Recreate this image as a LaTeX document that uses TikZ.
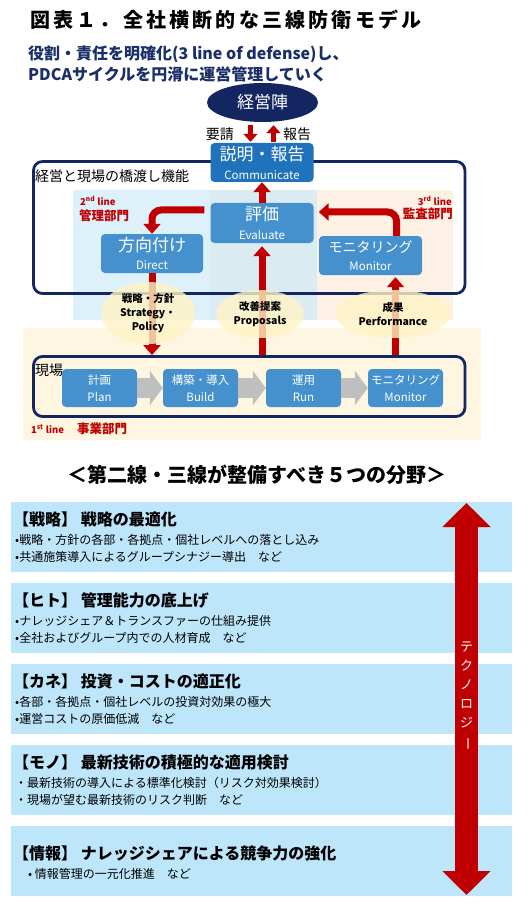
\documentclass[tikz,border=0pt]{standalone}
\usepackage{graphicx}
\usepackage{fontspec}
\setmainfont{Noto Sans CJK JP}
\usetikzlibrary{positioning,arrows.meta,shapes.geometric}

\definecolor{navy}{RGB}{19,38,98}
\definecolor{subnavy}{RGB}{26,46,104}
\definecolor{boxblue}{RGB}{69,145,205}
\definecolor{commblue}{RGB}{31,114,188}
\definecolor{linered}{RGB}{192,0,0}
\definecolor{bandblue}{RGB}{221,241,251}
\definecolor{bandmid}{RGB}{219,235,242}
\definecolor{bandpeach}{RGB}{253,240,228}
\definecolor{cream}{RGB}{255,246,226}
\definecolor{bubblefill}{RGB}{255,243,196}
\definecolor{fieldblue}{RGB}{189,230,251}
\definecolor{chevrongray}{RGB}{191,191,191}

\newcommand\fsz[2]{\fontsize{#1}{#2}\selectfont}

\tikzset{
  card/.style={rectangle, rounded corners=4pt, fill=boxblue, text=white, align=center, inner sep=0pt},
  frame/.style={rectangle, rounded corners=9pt, draw=navy, line width=2.8pt, inner sep=0pt},
  bubble/.style={ellipse, fill=bubblefill, fill opacity=0.8, text opacity=1, align=center, inner sep=0pt, font=\bfseries\fsz{10.5}{14}},
  flow/.style={draw=linered, line width=7pt, -{Triangle[length=10pt,width=17pt]}},
  smallflow/.style={draw=linered, line width=5pt, -{Triangle[length=8pt,width=14pt]}},
  chevron/.style={draw=chevrongray, line width=20pt, -{Triangle[length=13pt,width=34pt]}},
  redtag/.style={text=linered, inner sep=0pt, font=\bfseries\fsz{12.5}{14}},
  linetag/.style={text=linered, inner sep=0pt, font=\bfseries\fsz{9.5}{10}},
  plain/.style={inner sep=0pt, anchor=west}
}

\begin{document}
\begin{tikzpicture}[x=1pt,y=-1pt]
  \useasboundingbox (0,0) rectangle (531,909);

  \node[plain, font=\bfseries\fsz{20}{20}\addfontfeature{LetterSpace=16}] (title) at (30,20) {図表１．全社横断的な三線防衛モデル};
  \node[plain, text=subnavy, align=left, font=\bfseries\fsz{16}{21}] (lead) at (28,63.5) {役割・責任を明確化(3 line of defense)し、\\PDCAサイクルを円滑に運営管理していく};

  \fill[bandblue] (73,190) rectangle (210,320);
  \fill[bandmid] (210,190) rectangle (317,320);
  \fill[bandpeach] (317,190) rectangle (453,320);
  \fill[cream] (23,328) rectangle (481,440);

  \node[frame, minimum width=431.5pt, minimum height=132pt] (bridge) at (249.25,227.5) {};
  \node[frame, minimum width=431.5pt, minimum height=60pt] (genba) at (249.25,386.5) {};
  \node[plain, font=\fsz{14}{14}] (bridgelabel) at (35,176) {経営と現場の橋渡し機能};
  \node[plain, font=\fsz{14}{14}] (genbalabel) at (35,370) {現場};

  \node[ellipse, fill=navy, text=white, minimum width=111pt, minimum height=39pt, inner sep=0pt, font=\fsz{17}{17}] (ceo) at (262.5,102.5) {経営陣};
  \node[anchor=east, inner sep=0pt, font=\fsz{14}{14}] (req) at (234,134) {要請};
  \node[anchor=west, inner sep=0pt, font=\fsz{14}{14}] (rep) at (283,134) {報告};
  \node[card, fill=commblue, minimum width=103pt, minimum height=39pt, font=\fsz{17}{19}] (comm) at (262,162.5) {説明・報告\\\fsz{11.5}{13}Communicate};
  \node[card, minimum width=103pt, minimum height=40pt, font=\fsz{17}{19}] (eval) at (262,223) {評価\\\fsz{11.5}{13}Evaluate};
  \node[card, minimum width=102pt, minimum height=39pt, font=\fsz{17}{18}] (direct) at (152,253.5) {方向付け\\\fsz{11.5}{13}Direct};
  \node[card, minimum width=103pt, minimum height=39pt, font=\fsz{14}{18}] (monitor) at (370.5,255.5) {モニタリング\\\fsz{11.5}{13}Monitor};

  \node[linetag, anchor=west] (lineb) at (80,201) {2\textsuperscript{nd} line};
  \node[redtag, anchor=west] (deptb) at (79,216) {管理部門};
  \node[linetag, anchor=east] (linec) at (452,201) {3\textsuperscript{rd} line};
  \node[redtag, anchor=east] (deptc) at (453,214) {監査部門};
  \node[linetag, anchor=west] (linea) at (31,429) {1\textsuperscript{st} line};
  \node[redtag, anchor=west] (depta) at (77,429) {事業部門};

  \draw[smallflow, shorten <=3pt, shorten >=1pt] ([xshift=-12pt]ceo.south) -- ([xshift=-12pt]ceo.south |- comm.north);
  \draw[smallflow, shorten <=1pt, shorten >=3pt] ([xshift=11pt]ceo.south |- comm.north) -- ([xshift=11pt]ceo.south);
  \draw[flow] (eval) -- (comm);
  \draw[flow, rounded corners=9pt] ([xshift=-6pt,yshift=13pt]eval.west) -| (direct.north);
  \draw[flow, rounded corners=9pt] ([xshift=26pt]monitor.north) |- ([xshift=5pt,yshift=11pt]eval.east);
  \draw[flow] (direct.south) -- (direct.south |- genba.north);
  \draw[flow, shorten >=3pt] (eval.south |- genba.north) -- (eval.south);
  \draw[flow, shorten >=2pt] ([xshift=25pt]monitor.south |- genba.north) -- ([xshift=25pt]monitor.south);

  \node[bubble, minimum width=94pt, minimum height=62pt] (strat) at (148,313) {戦略・方針\\Strategy・\\Policy};
  \node[bubble, minimum width=88pt, minimum height=48pt] (prop) at (260,314) {改善提案\\Proposals};
  \node[bubble, minimum width=116pt, minimum height=48pt] (perf) at (393,314) {成果\\Performance};

  \foreach \i/\x/\ja/\en in {1/99.5/計画/Plan,2/200.5/構築・導入/Build,3/303.5/運用/Run,4/405.5/モニタリング/Monitor}
    \node[card, minimum width=75pt, minimum height=38pt, font=\fsz{11.5}{17}] (step\i) at (\x,388) {\ja\\\en};
  \foreach \i/\j in {1/2,2/3,3/4}
    \draw[chevron] (step\i) -- (step\j);

  \node[inner sep=0pt, font=\bfseries\fsz{20}{20}] (fields) at (257,475) {＜第二線・三線が整備すべき５つの分野＞};

  \foreach \y/\ty/\head/\pa/\pb in {
    502/519/{【戦略】 戦略の最適化}/{•戦略・方針の各部・各拠点・個社レベルへの落とし込み}/{•共通施策導入によるグループシナジー導出　など},
    583/600/{【ヒト】 管理能力の底上げ}/{•ナレッジシェア＆トランスファーの仕組み提供}/{•全社およびグループ内での人材育成　など},
    664/681/{【カネ】 投資・コストの適正化}/{•各部・各拠点・個社レベルの投資対効果の極大}/{•運営コストの原価低減　など},
    745/762/{【モノ】 最新技術の積極的な適用検討}/{・最新技術の導入による標準化検討（リスク対効果検討）}/{・現場が望む最新技術のリスク判断　など},
    826/853/{【情報】 ナレッジシェアによる競争力の強化}/{\hspace{13pt}•\ 情報管理の一元化推進　など}/{}}
  {
    \fill[fieldblue] (11,\y) rectangle (512,\y+70);
    \node[plain, font=\bfseries\fsz{16}{16}] (head\y) at (13,\ty) {\head};
    \node[plain, font=\fsz{12}{12}] (pa\y) at (15,\ty+21) {\pa};
    \node[plain, font=\fsz{12}{12}] (pb\y) at (15,\ty+38) {\pb};
  }

  \coordinate (techtop) at (466.5,503);
  \coordinate (techbot) at (466.5,895);
  \draw[linered, line width=23pt, {Triangle[length=24pt,width=47pt]}-{Triangle[length=24pt,width=47pt]}] (techtop) -- (techbot);
  \node[text=white, align=center, font=\fsz{13}{19}] (tech) at (466.5,696) {テ\\ク\\ノ\\ロ\\ジ\\\rotatebox[origin=c]{-90}{ー}};
\end{tikzpicture}
\end{document}
